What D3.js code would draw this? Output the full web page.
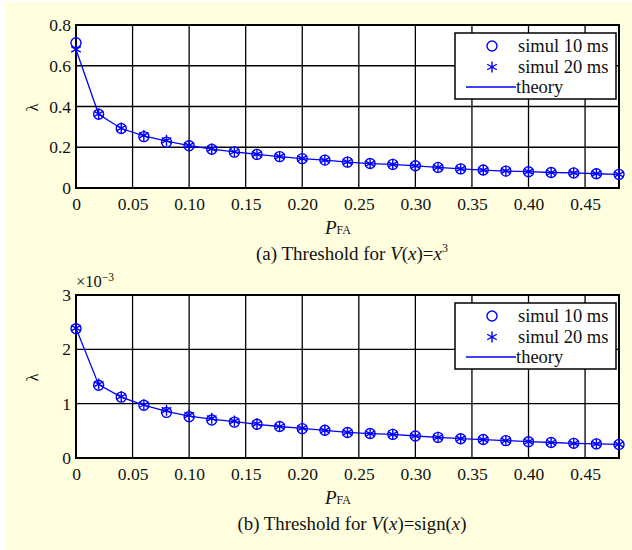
<!DOCTYPE html>
<html>
<head>
<meta charset="utf-8">
<script src="https://cdn.jsdelivr.net/npm/d3@7"></script>
<style>
  body { margin: 0; background: #fff; }
</style>
</head>
<body>
<script>
// P_FA values shared by both panels
const pfa = [0, 0.02, 0.04, 0.06, 0.08, 0.10, 0.12, 0.14, 0.16, 0.18, 0.20, 0.22, 0.24,
             0.26, 0.28, 0.30, 0.32, 0.34, 0.36, 0.38, 0.40, 0.42, 0.44, 0.46, 0.48];
const xTicks = [0, 0.05, 0.10, 0.15, 0.20, 0.25, 0.30, 0.35, 0.40, 0.45];

// panel (a): V(x)=x^3
const aSim10 = [0.713, 0.362, 0.292, 0.252, 0.225, 0.207, 0.190, 0.176, 0.165, 0.154, 0.144, 0.137, 0.127,
                0.120, 0.116, 0.109, 0.101, 0.094, 0.088, 0.083, 0.080, 0.076, 0.074, 0.070, 0.067];
const aSim20 = [0.680, 0.364, 0.294, 0.258, 0.234, 0.209, 0.192, 0.178, 0.166, 0.155, 0.145, 0.137, 0.128,
                0.120, 0.116, 0.109, 0.101, 0.094, 0.088, 0.084, 0.080, 0.076, 0.074, 0.071, 0.067];
const aTheory = [0.680, 0.362, 0.292, 0.256, 0.230, 0.208, 0.191, 0.177, 0.165, 0.154, 0.144, 0.137, 0.127,
                 0.120, 0.116, 0.109, 0.101, 0.094, 0.088, 0.083, 0.080, 0.076, 0.074, 0.070, 0.067];
const aYTicks = [0, 0.2, 0.4, 0.6, 0.8];

// panel (b): V(x)=sign(x), in units of 1e-3
const bSim10 = [2.38, 1.34, 1.12, 0.97, 0.84, 0.76, 0.70, 0.66, 0.62, 0.58, 0.54, 0.51, 0.47,
                0.45, 0.435, 0.405, 0.38, 0.355, 0.34, 0.32, 0.30, 0.285, 0.27, 0.26, 0.25];
const bSim20 = [2.39, 1.36, 1.13, 0.98, 0.88, 0.79, 0.73, 0.68, 0.63, 0.58, 0.55, 0.51, 0.47,
                0.45, 0.435, 0.405, 0.38, 0.355, 0.34, 0.32, 0.30, 0.285, 0.27, 0.26, 0.25];
const bTheory = [2.39, 1.35, 1.12, 0.975, 0.86, 0.77, 0.715, 0.67, 0.62, 0.58, 0.545, 0.51, 0.47,
                 0.45, 0.435, 0.405, 0.38, 0.355, 0.34, 0.32, 0.30, 0.285, 0.27, 0.26, 0.25];
const bYTicks = [0, 1, 2, 3];

const legendNames = ["simul 10 ms", "simul 20 ms", "theory"];

const width = 632, height = 550;
const blue = "#0000ff";
const ink = "#111";
const serif = "'Liberation Serif', 'Times New Roman', Times";

const svg = d3.select("body").append("svg")
  .attr("width", width)
  .attr("height", height);

// yellow backdrop
svg.append("rect")
  .attr("x", 5).attr("y", 2)
  .attr("width", width - 5).attr("height", height - 2)
  .attr("fill", "#ffffe0");

function fmtX(d) { return d === 0 ? "0" : d.toFixed(2); }

// every text gets the serif face explicitly
function txt(sel, size) {
  return sel.style("font-family", serif).style("font-size", size + "px").style("fill", ink);
}

function panel(top, sim10, sim20, theory, yTicks, yFmt, caption, capSize) {
  const left = 76, right = 619, plotH = 163;
  const x = d3.scaleLinear().domain([0, 0.48]).range([left, right]);
  const y = d3.scaleLinear().domain([yTicks[0], yTicks[yTicks.length - 1]]).range([top + plotH, top]);

  const g = svg.append("g");

  g.append("rect")
    .attr("x", left).attr("y", top)
    .attr("width", right - left).attr("height", plotH)
    .attr("fill", "#fff");

  // grid
  g.selectAll(".vgrid").data(xTicks.slice(1)).enter().append("line")
    .attr("x1", d => x(d)).attr("x2", d => x(d))
    .attr("y1", top).attr("y2", top + plotH)
    .attr("stroke", "#000").attr("stroke-width", 1.3);
  g.selectAll(".hgrid").data(yTicks.slice(1, -1)).enter().append("line")
    .attr("x1", left).attr("x2", right)
    .attr("y1", d => y(d)).attr("y2", d => y(d))
    .attr("stroke", "#000").attr("stroke-width", 1.3);

  // axes
  const xAxis = g.append("g")
    .attr("transform", "translate(0," + (top + plotH) + ")")
    .call(d3.axisBottom(x).tickValues(xTicks).tickFormat(fmtX).tickSize(0).tickPadding(10));
  xAxis.select(".domain").remove();
  txt(xAxis.selectAll("text"), 17.5);

  const yAxis = g.append("g")
    .attr("transform", "translate(" + left + ",0)")
    .call(d3.axisLeft(y).tickValues(yTicks).tickFormat(yFmt).tickSize(0).tickPadding(5));
  yAxis.select(".domain").remove();
  txt(yAxis.selectAll("text"), 17.5);

  // frame
  g.append("rect")
    .attr("x", left).attr("y", top)
    .attr("width", right - left).attr("height", plotH)
    .attr("fill", "none").attr("stroke", "#000").attr("stroke-width", 2);

  // theory line
  const line = d3.line().x((d, i) => x(pfa[i])).y(d => y(d));
  g.append("path").datum(theory)
    .attr("d", line)
    .attr("fill", "none").attr("stroke", blue).attr("stroke-width", 1.3);

  // circles (simul 10 ms)
  g.selectAll(".c10").data(sim10).enter().append("circle")
    .attr("cx", (d, i) => x(pfa[i])).attr("cy", d => y(d))
    .attr("r", 5).attr("fill", "none").attr("stroke", blue).attr("stroke-width", 1.4);

  // asterisks (simul 20 ms)
  const star = "M0,-5.5V5.5M-4.8,-2.75L4.8,2.75M-4.8,2.75L4.8,-2.75";
  g.selectAll(".s20").data(sim20).enter().append("path")
    .attr("transform", (d, i) => "translate(" + x(pfa[i]) + "," + y(d) + ")")
    .attr("d", star)
    .attr("fill", "none").attr("stroke", blue).attr("stroke-width", 1.4);

  // y label
  txt(g.append("text"), 16.5)
    .attr("transform", "translate(38," + (top + plotH / 2 + 1) + ") rotate(-90)")
    .attr("text-anchor", "middle")
    .text("λ");

  // x label
  const xl = txt(g.append("text"), 19)
    .attr("x", 338).attr("y", top + plotH + 46)
    .attr("text-anchor", "middle");
  xl.append("tspan").style("font-style", "italic").text("P");
  xl.append("tspan").style("font-size", "12px").text("FA");

  // caption
  const cap = txt(g.append("text"), capSize)
    .attr("x", 352).attr("y", top + plotH + 72)
    .attr("text-anchor", "middle");
  caption.forEach(part => {
    const t = cap.append("tspan").text(part.t);
    if (part.i) t.style("font-style", "italic");
    if (part.sup) t.style("font-size", "12px").attr("dy", -8);
  });

  // legend
  const lx = 455, ly = top + 8, lw = 161, lh = 66;
  const lg = g.append("g");
  lg.append("rect")
    .attr("x", lx).attr("y", ly).attr("width", lw).attr("height", lh)
    .attr("fill", "#fff").attr("stroke", "#000").attr("stroke-width", 1.5);
  lg.append("circle").attr("cx", lx + 37).attr("cy", ly + 13)
    .attr("r", 5).attr("fill", "none").attr("stroke", blue).attr("stroke-width", 1.4);
  lg.append("path")
    .attr("transform", "translate(" + (lx + 37) + "," + (ly + 34) + ")")
    .attr("d", star)
    .attr("fill", "none").attr("stroke", blue).attr("stroke-width", 1.4);
  lg.append("line")
    .attr("x1", lx + 11).attr("x2", lx + 61)
    .attr("y1", ly + 54).attr("y2", ly + 54)
    .attr("stroke", blue).attr("stroke-width", 1.3);
  txt(lg.selectAll(".lt").data(legendNames).enter().append("text"), 18.5)
    .attr("x", (d, i) => i < 2 ? lx + 63 : lx + 61)
    .attr("y", (d, i) => ly + 19 + i * 20.5)
    .text(d => d);

  return g;
}

panel(25, aSim10, aSim20, aTheory, aYTicks, d => d === 0 ? "0" : d3.format(".1f")(d),
  [{t: "(a) Threshold for "}, {t: "V", i: true}, {t: "("}, {t: "x", i: true}, {t: ")="},
   {t: "x", i: true}, {t: "3", sup: true}], 19);

panel(295, bSim10, bSim20, bTheory, bYTicks, d => String(d),
  [{t: "(b) Threshold for "}, {t: "V", i: true}, {t: "("}, {t: "x", i: true}, {t: ")=sign("},
   {t: "x", i: true}, {t: ")"}], 18.8);

// exponent label of panel (b)
const ex = txt(svg.append("text"), 16.5).attr("x", 76).attr("y", 287);
ex.append("tspan").text("×10");
ex.append("tspan").style("font-size", "11.5px").attr("dy", -6).text("−3");
</script>
</body>
</html>
